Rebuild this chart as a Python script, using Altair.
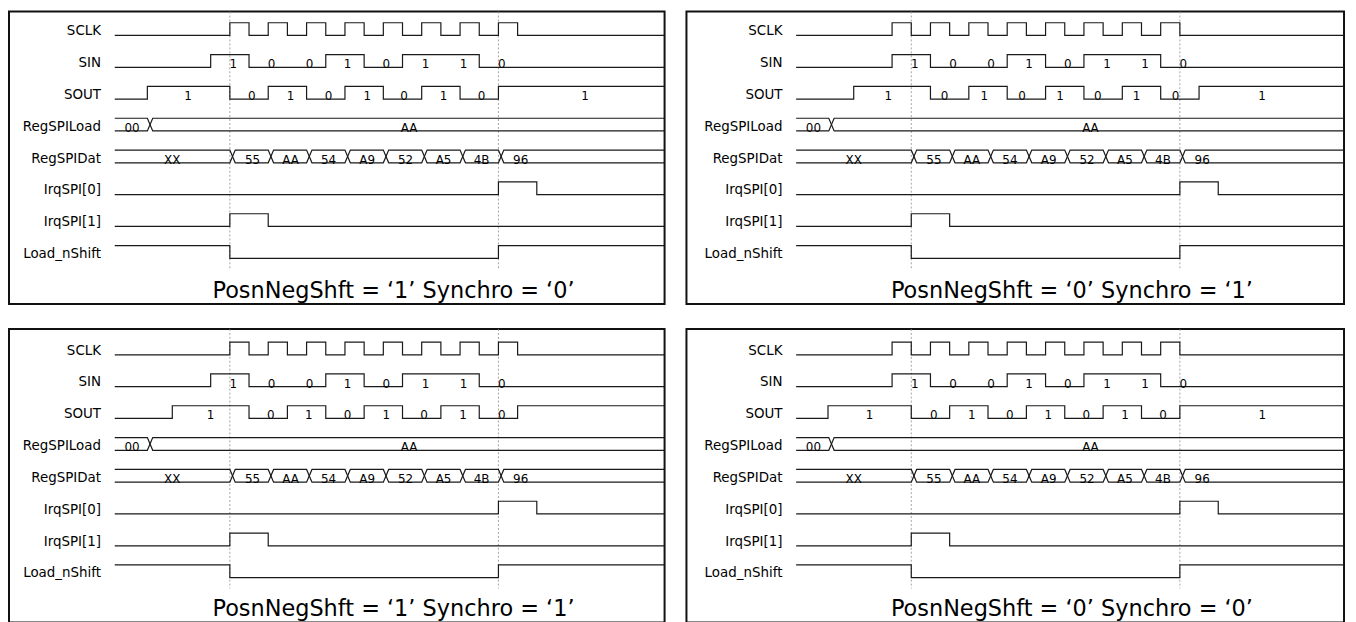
import json
import altair as alt
import pandas as pd

FONT = "DejaVu Sans"

# ---------------- data (time unit = one SCLK period) ----------------
SIGNALS = ["SCLK", "SIN", "SOUT", "RegSPILoad", "RegSPIDat", "IrqSPI[0]", "IrqSPI[1]", "Load_nShift"]
CAPTIONS = [
    "PosnNegShft = \u20181\u2019 Synchro = \u20180\u2019",
    "PosnNegShft = \u20180\u2019 Synchro = \u20181\u2019",
    "PosnNegShft = \u20181\u2019 Synchro = \u20181\u2019",
    "PosnNegShft = \u20180\u2019 Synchro = \u20180\u2019",
]

T_START = -3.0
MARKER_T = [0.0, 7.0]
MARKER_END = 7.34

SCLK_EDGES_POS = [0, 0.5, 1, 1.5, 2, 2.5, 3, 3.5, 4, 4.5, 5, 5.5, 6, 6.5, 7, 7.5]
SCLK_EDGES_NEG = [-0.5, 0, 0.5, 1, 1.5, 2, 2.5, 3, 3.5, 4, 4.5, 5, 5.5, 6, 6.5, 7]

SIN_EDGES = [-0.5, 0.5, 2.5, 3.5, 4.5, 6.5]
SIN_BITS = ["1", "0", "0", "1", "0", "1", "1", "0"]
SIN_BIT_T = [0.09, 1.09, 2.08, 3.07, 4.08, 5.1, 6.09, 7.09]

SOUT_EDGES_P1 = [-2.15, 0, 1, 2, 3, 4, 5, 6, 7]
SOUT_EDGES_P2 = [-1.5, 0.5, 1.5, 2.5, 3.5, 4.5, 5.5, 6.5, 7.5]
SOUT_EDGES_P3 = [-1.5, 0.5, 1.5, 2.5, 3.5, 4.5, 5.5, 6.5, 7.5]
SOUT_EDGES_P4 = [-2.17, 0, 1, 2, 3, 4, 5, 6, 7]
SOUT_BITS_P1 = ["1", "0", "1", "0", "1", "0", "1", "0", "1"]
SOUT_BITS_P2 = ["1", "0", "1", "0", "1", "0", "1", "0", "1"]
SOUT_BITS_P3 = ["1", "0", "1", "0", "1", "0", "1", "0"]
SOUT_BITS_P4 = ["1", "0", "1", "0", "1", "0", "1", "0", "1"]
SOUT_BIT_T_P1 = [-1.09, 0.57, 1.58, 2.57, 3.58, 4.54, 5.57, 6.56, 9.26]
SOUT_BIT_T_P2 = [-0.6, 0.87, 1.9, 2.89, 3.88, 4.86, 5.87, 6.89, 9.14]
SOUT_BIT_T_P3 = [-0.5, 1.07, 2.06, 3.07, 4.08, 5.06, 6.08, 7.09]
SOUT_BIT_T_P4 = [-1.09, 0.59, 1.58, 2.57, 3.57, 4.56, 5.57, 6.56, 9.15]

LOAD_CROSS_T = [-2.08]
LOAD_VALUES = ["00", "AA"]
LOAD_LABEL_T = [-2.55, 4.67]

DAT_CROSS_T = [0.07, 1.07, 2.07, 3.07, 4.07, 5.07, 6.07, 7.07]
DAT_VALUES = ["XX", "55", "AA", "54", "A9", "52", "A5", "4B", "96"]
DAT_LABEL_T = [-1.5, 0.59, 1.58, 2.57, 3.58, 4.58, 5.57, 6.56, 7.58]

IRQ0_EDGES = [7.0, 8.0]
IRQ1_EDGES = [0.0, 1.0]
LOAD_NSHIFT_EDGES = [0.0, 7.0]

# ---------------- layout (styles / sizes) ----------------
ROW_PX = 32.0
HIGH = 0.4
XH = 0.07

PANELS = [
    dict(caption=CAPTIONS[0], sclk=SCLK_EDGES_POS, sout=SOUT_EDGES_P1, sbits=SOUT_BITS_P1, sbit_t=SOUT_BIT_T_P1,
         width=659, xdom=[-5.756, 11.33], label_off=-92, height=294, yoff=24),
    dict(caption=CAPTIONS[1], sclk=SCLK_EDGES_NEG, sout=SOUT_EDGES_P2, sbits=SOUT_BITS_P2, sbit_t=SOUT_BIT_T_P2,
         width=661, xdom=[-5.859, 11.278], label_off=-96, height=294, yoff=24),
    dict(caption=CAPTIONS[2], sclk=SCLK_EDGES_POS, sout=SOUT_EDGES_P3, sbits=SOUT_BITS_P3, sbit_t=SOUT_BIT_T_P3,
         width=659, xdom=[-5.756, 11.33], label_off=-92, height=295, yoff=26),
    dict(caption=CAPTIONS[3], sclk=SCLK_EDGES_NEG, sout=SOUT_EDGES_P4, sbits=SOUT_BITS_P4, sbit_t=SOUT_BIT_T_P4,
         width=661, xdom=[-5.859, 11.278], label_off=-96, height=295, yoff=26),
]


def digital_rows(row, start_high, edges, t_end):
    lvl = 1 if start_high else 0
    pts = [(T_START, lvl)]
    for e in edges:
        lvl = 1 - lvl
        pts.append((e, lvl))
    pts.append((t_end, lvl))
    return [{"sig": SIGNALS[row], "k": i, "t": t, "v": row - HIGH * l} for i, (t, l) in enumerate(pts)]


def bus_rows(row, crosses, t_end):
    out = []
    for start in (1, 0):
        lvl = start
        pts = [(T_START, lvl)]
        for c in crosses:
            pts.append((c - XH, lvl))
            lvl = 1 - lvl
            pts.append((c + XH, lvl))
        pts.append((t_end, lvl))
        out += [{"sig": f"{SIGNALS[row]}_{start}", "k": i, "t": t, "v": row - HIGH * l}
                for i, (t, l) in enumerate(pts)]
    return out


def text_rows(row, texts, ts):
    return [{"t": t, "v": row, "txt": s} for s, t in zip(texts, ts)]


def panel(cfg):
    t_end = cfg["xdom"][1]
    dig = []
    dig += digital_rows(0, False, cfg["sclk"], t_end)
    dig += digital_rows(1, False, SIN_EDGES, t_end)
    dig += digital_rows(2, False, cfg["sout"], t_end)
    dig += digital_rows(5, False, IRQ0_EDGES, t_end)
    dig += digital_rows(6, False, IRQ1_EDGES, t_end)
    dig += digital_rows(7, True, LOAD_NSHIFT_EDGES, t_end)
    bus = bus_rows(3, LOAD_CROSS_T, t_end) + bus_rows(4, DAT_CROSS_T, t_end)
    txt = (text_rows(1, SIN_BITS, SIN_BIT_T) + text_rows(2, cfg["sbits"], cfg["sbit_t"])
           + text_rows(3, LOAD_VALUES, LOAD_LABEL_T) + text_rows(4, DAT_VALUES, DAT_LABEL_T))

    y_top = -cfg["yoff"] / ROW_PX
    y_bot = (cfg["height"] - cfg["yoff"]) / ROW_PX
    rules = pd.DataFrame({"t": MARKER_T, "v": [y_top] * len(MARKER_T), "v2": [MARKER_END] * len(MARKER_T)})

    xs = alt.Scale(domain=cfg["xdom"], nice=False, zero=False)
    ys = alt.Scale(domain=[y_top, y_bot], nice=False, zero=False, reverse=True)
    yaxis = alt.Axis(
        values=[i - 0.15 for i in range(len(SIGNALS))],
        labelExpr=json.dumps(SIGNALS) + "[round(datum.value + 0.15)]",
        offset=cfg["label_off"], ticks=False, tickSize=0, domain=False, grid=False,
        labelPadding=0, labelFont=FONT, labelFontSize=13.5, labelColor="black",
        labelAlign="right", labelBaseline="middle", title=None,
    )
    X = alt.X("t:Q", scale=xs, axis=None)
    Y = alt.Y("v:Q", scale=ys, axis=yaxis)

    l_rules = alt.Chart(rules).mark_rule(color="#8c8c8c", strokeDash=[2, 2], strokeWidth=0.8).encode(
        x=X, y=Y, y2="v2:Q")
    l_dig = alt.Chart(pd.DataFrame(dig)).mark_line(
        interpolate="step-after", color="#1a1a1a", strokeWidth=1.2).encode(
        x=X, y=Y, detail="sig:N", order="k:Q")
    l_bus = alt.Chart(pd.DataFrame(bus)).mark_line(color="#1a1a1a", strokeWidth=1.2).encode(
        x=X, y=Y, detail="sig:N", order="k:Q")
    l_txt = alt.Chart(pd.DataFrame(txt)).mark_text(
        font=FONT, fontSize=12, color="black", align="center", baseline="alphabetic", dy=1).encode(
        x=X, y=Y, text="txt:N")

    return alt.layer(l_rules, l_dig, l_bus, l_txt).properties(
        width=cfg["width"], height=cfg["height"],
        title=alt.TitleParams(text=cfg["caption"], orient="bottom", anchor="middle", offset=-24, dx=57,
                              font=FONT, fontSize=22.5, fontWeight="normal", color="black"),
    )


top = alt.hconcat(panel(PANELS[0]), panel(PANELS[1]), spacing=17)
bottom = alt.hconcat(panel(PANELS[2]), panel(PANELS[3]), spacing=17)
chart = alt.vconcat(top, bottom, spacing=22).properties(
    padding={"left": 0, "top": 0, "right": 0, "bottom": 0},
    background="white",
).configure_view(stroke="#111111", strokeWidth=2)

chart.save("out.html", embed_options={"renderer": "svg", "actions": False})
